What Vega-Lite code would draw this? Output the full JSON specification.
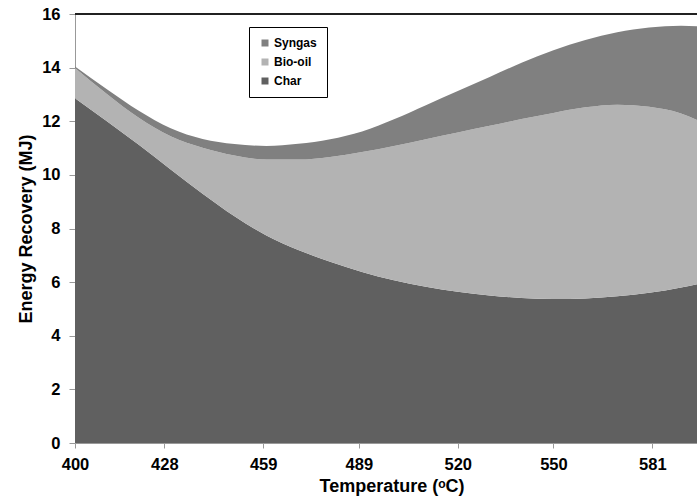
{
  "$schema": "https://vega.github.io/schema/vega-lite/v6.json",
  "width": 622,
  "height": 429,
  "autosize": "none",
  "padding": {"left": 75, "top": 14, "right": 0, "bottom": 54},
  "background": "white",
  "config": {"view": {"stroke": null}, "font": "Liberation Sans"},
  "data": {
    "values": [
      {"Temperature": 400, "Char": 12.86, "Bio-oil": 1.13, "Syngas": 0.05},
      {"Temperature": 410, "Char": 12.00, "Bio-oil": 1.02, "Syngas": 0.17},
      {"Temperature": 420, "Char": 11.12, "Bio-oil": 1.01, "Syngas": 0.26},
      {"Temperature": 430, "Char": 10.20, "Bio-oil": 1.24, "Syngas": 0.30},
      {"Temperature": 440, "Char": 9.30, "Bio-oil": 1.71, "Syngas": 0.33},
      {"Temperature": 450, "Char": 8.46, "Bio-oil": 2.26, "Syngas": 0.43},
      {"Temperature": 460, "Char": 7.74, "Bio-oil": 2.83, "Syngas": 0.51},
      {"Temperature": 470, "Char": 7.20, "Bio-oil": 3.37, "Syngas": 0.59},
      {"Temperature": 480, "Char": 6.76, "Bio-oil": 3.91, "Syngas": 0.66},
      {"Temperature": 490, "Char": 6.38, "Bio-oil": 4.47, "Syngas": 0.77},
      {"Temperature": 500, "Char": 6.07, "Bio-oil": 5.01, "Syngas": 0.99},
      {"Temperature": 510, "Char": 5.83, "Bio-oil": 5.50, "Syngas": 1.27},
      {"Temperature": 520, "Char": 5.64, "Bio-oil": 5.94, "Syngas": 1.55},
      {"Temperature": 530, "Char": 5.50, "Bio-oil": 6.33, "Syngas": 1.82},
      {"Temperature": 540, "Char": 5.41, "Bio-oil": 6.67, "Syngas": 2.10},
      {"Temperature": 550, "Char": 5.37, "Bio-oil": 6.94, "Syngas": 2.34},
      {"Temperature": 560, "Char": 5.39, "Bio-oil": 7.13, "Syngas": 2.51},
      {"Temperature": 570, "Char": 5.47, "Bio-oil": 7.15, "Syngas": 2.70},
      {"Temperature": 580, "Char": 5.60, "Bio-oil": 6.94, "Syngas": 2.96},
      {"Temperature": 590, "Char": 5.80, "Bio-oil": 6.49, "Syngas": 3.27},
      {"Temperature": 595, "Char": 5.92, "Bio-oil": 6.13, "Syngas": 3.49}
    ]
  },
  "layer": [
    {
      "transform": [
        {"fold": ["Char", "Bio-oil", "Syngas"], "as": ["Product", "Energy"]},
        {"calculate": "indexof(['Char','Bio-oil','Syngas'], datum.Product)", "as": "stackOrder"}
      ],
      "mark": {"type": "area", "interpolate": "monotone"},
      "encoding": {
        "x": {
          "field": "Temperature",
          "type": "quantitative",
          "scale": {"domain": [400, 595], "nice": false, "zero": false},
          "axis": {
            "values": [400, 428, 459, 489, 520, 550, 581],
            "title": "Temperature (ᵒC)",
            "grid": false,
            "labelFlush": false,
            "labelFontSize": 16.5,
            "labelFontWeight": "bold",
            "labelColor": "#000",
            "labelPadding": 8,
            "tickColor": "#999",
            "tickSize": 5,
            "domainColor": "#999",
            "titleFontSize": 18,
            "titleFontWeight": "bold",
            "titleColor": "#000",
            "titleX": 316.5,
            "titleY": 48,
            "titleBaseline": "alphabetic",
            "titleAlign": "center"
          }
        },
        "y": {
          "field": "Energy",
          "type": "quantitative",
          "stack": "zero",
          "scale": {"domain": [0, 16], "nice": false},
          "axis": {
            "values": [0, 2, 4, 6, 8, 10, 12, 14, 16],
            "title": "Energy Recovery (MJ)",
            "grid": false,
            "labelFontSize": 16.5,
            "labelFontWeight": "bold",
            "labelColor": "#000",
            "labelPadding": 9,
            "tickColor": "#999",
            "tickSize": 6,
            "domainColor": "#999",
            "titleFontSize": 18,
            "titleFontWeight": "bold",
            "titleColor": "#000",
            "titleX": -44,
            "titleY": 214.5,
            "titleBaseline": "alphabetic",
            "titleAlign": "center"
          }
        },
        "color": {
          "field": "Product",
          "type": "nominal",
          "scale": {"domain": ["Syngas", "Bio-oil", "Char"], "range": ["#808080", "#b3b3b3", "#606060"]},
          "legend": {
            "orient": "none",
            "legendX": 174,
            "legendY": 13,
            "title": null,
            "fillColor": "white",
            "strokeColor": "#000",
            "padding": 10,
            "rowPadding": 7,
            "symbolType": "square",
            "symbolSize": 49,
            "symbolStrokeWidth": 0,
            "labelFontSize": 12,
            "labelFontWeight": "bold",
            "labelColor": "#000",
            "labelOffset": 3,
            "labelExpr": "datum.label + '\u00a0\u00a0\u00a0\u00a0\u00a0'"
          }
        },
        "order": {"field": "stackOrder", "type": "quantitative"}
      }
    },
    {
      "mark": {"type": "rule", "color": "#222", "strokeWidth": 1.5},
      "encoding": {"y": {"datum": 16}}
    }
  ]
}
